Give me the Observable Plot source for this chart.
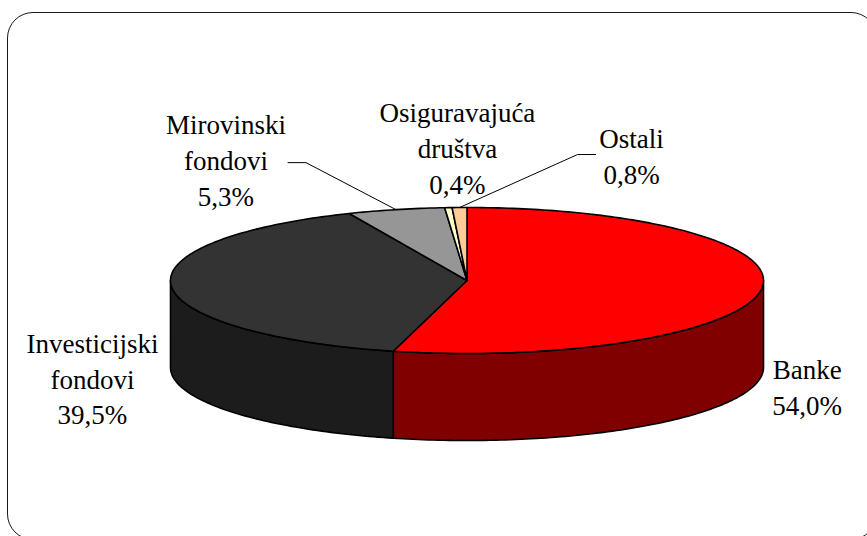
<!DOCTYPE html>
<html>
<head>
<meta charset="utf-8">
<script src="https://cdn.jsdelivr.net/npm/d3@7"></script>
<script src="https://cdn.jsdelivr.net/npm/@observablehq/plot@0.6"></script>
<style>
  html, body { margin: 0; padding: 0; background: #fff; }
  #wrap { position: relative; width: 867px; height: 536px; overflow: hidden; background: #fff; }
  #chart { position: absolute; left: 0; top: 0; }
  #frame { position: absolute; left: 7px; top: 12px; width: 870px; height: 528px;
           border: 1.6px solid #1a1a1a; border-radius: 26px; box-sizing: border-box; pointer-events: none; }
</style>
</head>
<body>
<div id="wrap"><div id="chart"></div><div id="frame"></div></div>
<script>
// ---- data ----
const categories = ["Banke", "Investicijski fondovi", "Mirovinski fondovi", "Osiguravajuća društva", "Ostali"];
const shares = [54.0, 39.5, 5.3, 0.4, 0.8];
const topColors = ["#ff0000", "#333333", "#969696", "#ffffcc", "#ffcc99"];
const sideColors = ["#800000", "#1c1c1c", "#707070", "#c8c8a0", "#c8a078"];

// ---- layout (pixels) ----
const CX = 466.5, CY = 280, RX = 296.5, RY = 73, DEPTH = 87;
// label offsets from slice mid-point on the rim (pixels)
const labelOffsets = [[46, 96], [-79, 91], [-170, -51], [9, -61], [172, -53]];
// leader lines: [elbow offset, end offset] from rim mid-point (pixels), null = none
const leaderOffsets = [null, null, [[-90, -47], [-108, -47]], null, [[118, -53], [136, -53]]];

const D = DEPTH / RY;
const TAU = 2 * Math.PI;

let cum = 0;
const slices = shares.map((s, i) => {
  const a0 = cum / 100 * TAU;
  cum += s;
  const a1 = cum / 100 * TAU;
  return {i, a0, a1, mid: (a0 + a1) / 2};
});

function arc(a0, a1, yOff) {
  const n = Math.max(2, Math.ceil((a1 - a0) / (Math.PI / 180)));
  const pts = [];
  for (let k = 0; k <= n; k++) {
    const a = a0 + (a1 - a0) * k / n;
    pts.push({x: Math.sin(a), y: -Math.cos(a) + yOff});
  }
  return pts;
}

const polys = [];
// visible (front) side walls
slices.forEach(s => {
  const s0 = Math.max(s.a0, Math.PI / 2), s1 = Math.min(s.a1, 3 * Math.PI / 2);
  if (s1 > s0) {
    const top = arc(s0, s1, 0);
    const bot = arc(s0, s1, D).reverse();
    [...top, ...bot].forEach(p => polys.push({id: "side" + s.i, fill: sideColors[s.i], ...p}));
  }
});
// top faces
slices.forEach(s => {
  const pts = [{x: 0, y: 0}, ...arc(s.a0, s.a1, 0)];
  pts.forEach(p => polys.push({id: "top" + s.i, fill: topColors[s.i], ...p}));
});

const fmt = v => v.toFixed(1).replace(".", ",") + "%";
const labels = slices.map(s => ({
  x: Math.sin(s.mid) + labelOffsets[s.i][0] / RX,
  y: -Math.cos(s.mid) + labelOffsets[s.i][1] / RY,
  text: categories[s.i].replace(" ", "\n") + "\n" + fmt(shares[s.i])
}));

const leaders = [];
slices.forEach(s => {
  const lo = leaderOffsets[s.i];
  if (!lo) return;
  const mx = Math.sin(s.mid), my = -Math.cos(s.mid);
  leaders.push({id: s.i, x: mx, y: my});
  lo.forEach(([dx, dy]) => leaders.push({id: s.i, x: mx + dx / RX, y: my + dy / RY}));
});

const chart = Plot.plot({
  width: 867,
  height: 536,
  margin: 0,
  style: {background: "transparent", overflow: "visible"},
  x: {domain: [-1, 1], range: [CX - RX, CX + RX], axis: null},
  y: {domain: [-1, 1], range: [CY - RY, CY + RY], axis: null},
  color: {type: "identity"},
  marks: [
    Plot.line(polys, {x: "x", y: "y", z: "id", fill: "fill", stroke: "#000", strokeWidth: 1.6,
                      strokeLinejoin: "round", curve: "linear-closed"}),
    Plot.line(leaders, {x: "x", y: "y", z: "id", stroke: "#000", strokeWidth: 1}),
    Plot.text(labels, {x: "x", y: "y", text: "text", fontSize: 27, lineHeight: 1.32,
                       fontFamily: "Liberation Serif", fill: "#000",
                       textAnchor: "middle", lineAnchor: "middle"})
  ]
});
document.getElementById("chart").appendChild(chart);
</script>
</body>
</html>
